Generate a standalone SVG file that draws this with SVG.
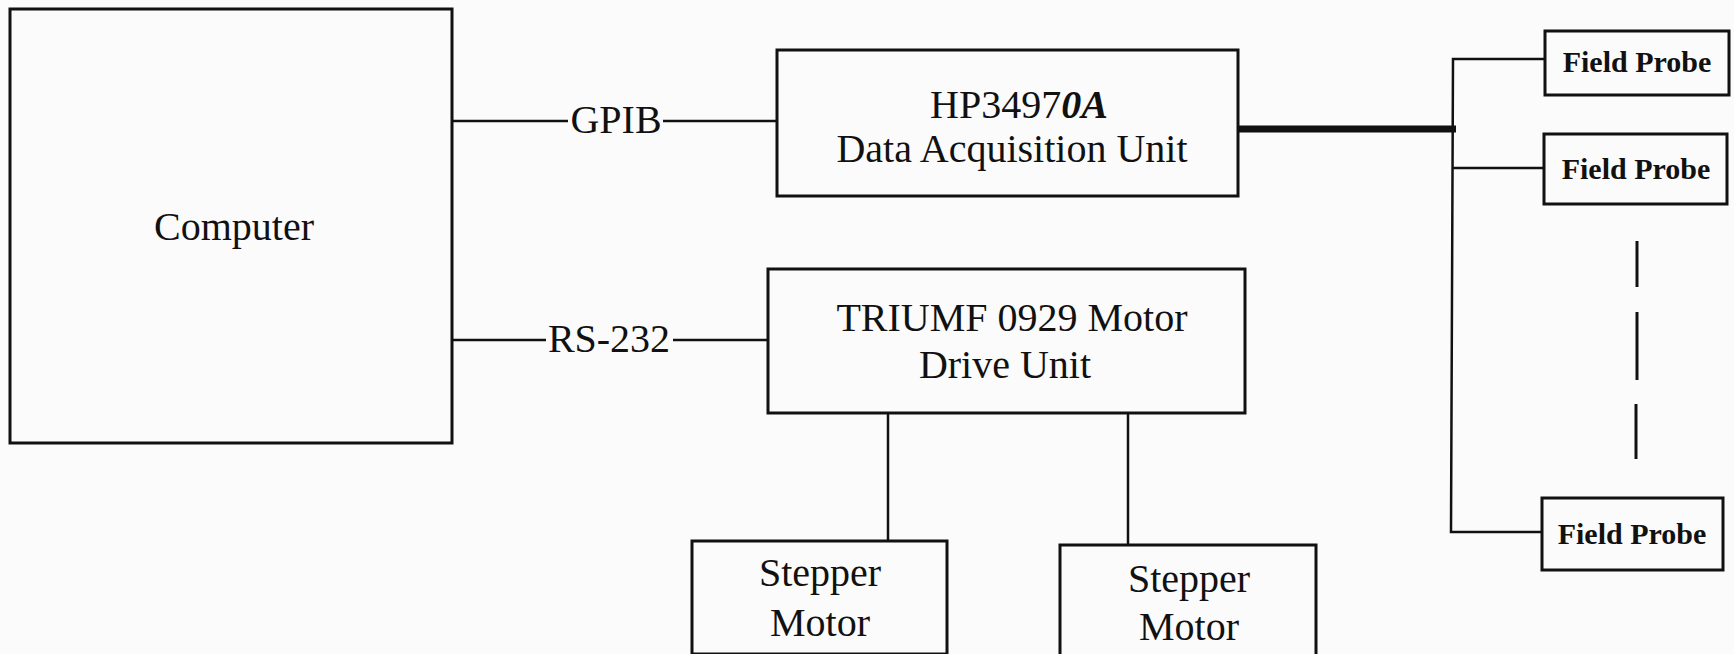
<svg xmlns="http://www.w3.org/2000/svg" width="1734" height="654" viewBox="0 0 1734 654">
<style>
.box{fill:none;stroke:#111;stroke-width:3}
.ln{fill:none;stroke:#111;stroke-width:2.5}
.t{font-family:"Liberation Serif","Times New Roman",serif;font-size:40px;fill:#111;text-anchor:middle}
.fp{font-family:"Liberation Serif","Times New Roman",serif;font-size:30px;font-weight:bold;fill:#111;text-anchor:middle}
</style>
<rect width="1734" height="654" fill="#fbfbfb"/>
<g id="connectors">
<line class="ln" x1="452" y1="121" x2="568" y2="121"/>
<line class="ln" x1="663" y1="121" x2="777" y2="121"/>
<line class="ln" x1="452" y1="340" x2="546" y2="340"/>
<line class="ln" x1="673" y1="340" x2="768" y2="340"/>
<line fill="none" stroke="#111" stroke-width="7" x1="1238" y1="129" x2="1456" y2="129"/>
<polyline class="ln" points="1545,59 1453,59 1451,532 1542,532"/>
<line class="ln" x1="1452" y1="168" x2="1544" y2="168"/>
<line class="ln" x1="888" y1="412" x2="888" y2="541"/>
<line class="ln" x1="1128" y1="412" x2="1128" y2="545"/>
<line fill="none" stroke="#111" stroke-width="3" x1="1637" y1="241" x2="1637" y2="287"/>
<line fill="none" stroke="#111" stroke-width="3" x1="1637" y1="312" x2="1637" y2="380"/>
<line fill="none" stroke="#111" stroke-width="3" x1="1636" y1="404" x2="1636" y2="459"/>
<text class="t" x="616" y="133">GPIB</text>
<text class="t" x="609" y="352">RS-232</text>
</g>
<g id="computer">
<rect class="box" x="10" y="9" width="442" height="434"/>
<text class="t" x="234" y="240">Computer</text>
</g>
<g id="daq">
<rect class="box" x="777" y="50" width="461" height="146"/>
<text class="t" x="1019" y="118">HP3497<tspan font-style="italic" font-weight="bold">0A</tspan></text>
<text class="t" x="1012" y="162">Data Acquisition Unit</text>
</g>
<g id="motor-drive">
<rect class="box" x="768" y="269" width="477" height="144"/>
<text class="t" x="1012" y="331">TRIUMF 0929 Motor</text>
<text class="t" x="1005" y="378">Drive Unit</text>
</g>
<g id="stepper1">
<rect class="box" x="692" y="541" width="255" height="113"/>
<text class="t" x="820" y="586">Stepper</text>
<text class="t" x="820" y="636">Motor</text>
</g>
<g id="stepper2">
<rect class="box" x="1060" y="545" width="256" height="112"/>
<text class="t" x="1189" y="592">Stepper</text>
<text class="t" x="1189" y="640">Motor</text>
</g>
<g id="probe1">
<rect class="box" x="1545" y="31" width="184" height="64"/>
<text class="fp" x="1637" y="72">Field Probe</text>
</g>
<g id="probe2">
<rect class="box" x="1544" y="134" width="183" height="70"/>
<text class="fp" x="1636" y="179">Field Probe</text>
</g>
<g id="probe3">
<rect class="box" x="1542" y="498" width="181" height="72"/>
<text class="fp" x="1632" y="544">Field Probe</text>
</g>
</svg>
